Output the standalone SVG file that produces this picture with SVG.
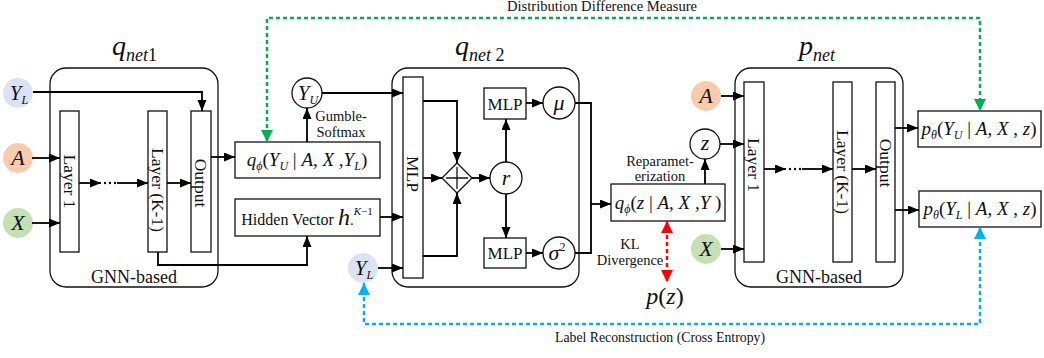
<svg xmlns="http://www.w3.org/2000/svg" width="1044" height="358" viewBox="0 0 1044 358" font-family="'Liberation Serif', 'DejaVu Serif', serif">
<style>
text{font-family:'Liberation Serif','DejaVu Serif',serif;fill:#111}
.i{font-style:italic}
.box{fill:#fff;stroke:#111;stroke-width:1.3}
.grp{fill:#fff;stroke:#111;stroke-width:1.3}
.ln{fill:none;stroke:#000;stroke-width:1.8}
.ar{fill:none;stroke:#000;stroke-width:1.8;marker-end:url(#ah)}
.lab{font-size:17.5px}
.gnn{font-size:18px}
.sm{font-size:14.5px}
.cap{font-size:14px}
.m{font-size:19px}
.g{font-size:22px}
.circ{fill:#fff;stroke:#111;stroke-width:1.3}
</style>
<defs>
<marker id="ah" markerUnits="userSpaceOnUse" markerWidth="12" markerHeight="10" refX="11" refY="4.5" orient="auto"><path d="M0,0 L11,4.5 L0,9 z" fill="#000"/></marker>
<marker id="ag" markerUnits="userSpaceOnUse" markerWidth="13" markerHeight="13" refX="12" refY="6" orient="auto-start-reverse"><path d="M0,0 L12,6 L0,12 z" fill="#00b050"/></marker>
<marker id="ab" markerUnits="userSpaceOnUse" markerWidth="13" markerHeight="13" refX="12" refY="6" orient="auto-start-reverse"><path d="M0,0 L12,6 L0,12 z" fill="#00b0f0"/></marker>
<marker id="ar" markerUnits="userSpaceOnUse" markerWidth="13" markerHeight="13" refX="12" refY="6" orient="auto-start-reverse"><path d="M0,0 L12,6 L0,12 z" fill="#ff0000"/></marker>
</defs>

<g id="qnet1">
<rect class="grp" x="50" y="68" width="168" height="219" rx="16"/>
<text x="112" y="55" font-size="28" class="i">q<tspan font-size="18" dy="6">net</tspan><tspan font-size="18" font-style="normal">1</tspan></text>
<text x="134" y="283" text-anchor="middle" class="gnn">GNN-based</text>
</g>
<g id="q1-layer1"><rect class="box" x="60" y="111" width="19" height="141"/><text class="lab" text-anchor="middle" dy="0.33em" transform="translate(69.5,181.5) rotate(90)">Layer 1</text></g>
<g id="q1-layerK"><rect class="box" x="148" y="111" width="19" height="141"/><text class="lab" text-anchor="middle" dy="0.33em" transform="translate(157.5,190) rotate(90)">Layer (K-1)</text></g>
<g id="q1-output"><rect class="box" x="191" y="111" width="20" height="141"/><text class="lab" text-anchor="middle" dy="0.33em" transform="translate(201,183) rotate(90)">Output</text></g>

<g id="in-YL1"><circle cx="18" cy="93" r="15" fill="#dae3f3"/><text x="19" y="100" text-anchor="middle" class="m"><tspan class="i" font-size="21">Y</tspan><tspan class="i" font-size="12" dy="4">L</tspan></text></g>
<g id="in-A1"><circle cx="18" cy="158" r="15" fill="#f8cbad"/><text x="18" y="165" text-anchor="middle" class="g i">A</text></g>
<g id="in-X1"><circle cx="18" cy="223" r="15" fill="#c5e0b4"/><text x="18" y="230" text-anchor="middle" class="g i">X</text></g>

<g id="qphiY"><rect class="box" x="235" y="142" width="145" height="36"/>
<text x="307" y="166" text-anchor="middle" class="m"><tspan class="i">q</tspan><tspan class="i" font-size="12" dy="4">ϕ</tspan><tspan dy="-4">(</tspan><tspan class="i">Y</tspan><tspan class="i" font-size="12" dy="4">U</tspan><tspan dy="-4"> | </tspan><tspan class="i">A</tspan><tspan>, </tspan><tspan class="i">X</tspan><tspan> ,</tspan><tspan class="i">Y</tspan><tspan class="i" font-size="12" dy="4">L</tspan><tspan dy="-4">)</tspan></text></g>
<g id="hidden"><rect class="box" x="235" y="199" width="145" height="37"/>
<text x="307" y="225" text-anchor="middle"><tspan font-size="16">Hidden Vector </tspan><tspan class="i" font-size="24">h</tspan><tspan font-size="15">.</tspan><tspan class="i" font-size="11" dy="-10">K</tspan><tspan font-size="11">−1</tspan></text></g>
<g id="YU"><circle class="circ" cx="307" cy="93" r="15"/><text x="308" y="100" text-anchor="middle" class="m"><tspan class="i" font-size="21">Y</tspan><tspan class="i" font-size="12" dy="4">U</tspan></text></g>
<text x="341" y="121" text-anchor="middle" class="sm">Gumble-</text>
<text x="341" y="137" text-anchor="middle" class="sm">Softmax</text>
<g id="in-YL2"><circle cx="363" cy="268" r="15" fill="#dae3f3"/><text x="364" y="275" text-anchor="middle" class="m"><tspan class="i" font-size="21">Y</tspan><tspan class="i" font-size="12" dy="4">L</tspan></text></g>

<g id="qnet2">
<rect class="grp" x="392" y="68" width="187" height="219" rx="16"/>
<text x="455" y="55" font-size="28" class="i">q<tspan font-size="18" dy="6">net</tspan><tspan font-size="18" font-style="normal"> 2</tspan></text>
</g>
<g id="q2-mlp"><rect class="box" x="403" y="77" width="20" height="201"/><text class="lab" text-anchor="middle" dy="0.33em" transform="translate(413,174) rotate(90)">MLP</text></g>
<g id="plus"><polygon points="457,163 472,178 457,193 442,178" fill="#fff" stroke="#111" stroke-width="1.3"/><path d="M446,178 H468 M457,167 V189" stroke="#111" stroke-width="1.3"/></g>
<g id="r"><circle class="circ" cx="506" cy="178" r="16"/><text x="506" y="185" text-anchor="middle" class="g i">r</text></g>
<g id="mlp-mu"><rect class="box" x="484" y="88" width="42" height="31"/><text x="505" y="110" text-anchor="middle" font-size="17">MLP</text></g>
<g id="mlp-sig"><rect class="box" x="484" y="238" width="42" height="30"/><text x="505" y="259" text-anchor="middle" font-size="17">MLP</text></g>
<g id="mu"><circle class="circ" cx="559" cy="103" r="16"/><text x="559" y="110" text-anchor="middle" class="g i">μ</text></g>
<g id="sigma"><circle class="circ" cx="559" cy="253" r="16"/><text x="557" y="260" text-anchor="middle" class="g"><tspan class="i">σ</tspan><tspan font-size="12" dy="-9">2</tspan></text></g>

<g id="qz"><rect class="box" x="611" y="184" width="114" height="37"/>
<text x="668" y="209" text-anchor="middle" class="m"><tspan class="i">q</tspan><tspan class="i" font-size="12" dy="4">ϕ</tspan><tspan dy="-4">(</tspan><tspan class="i">z</tspan><tspan> | </tspan><tspan class="i">A</tspan><tspan>, </tspan><tspan class="i">X</tspan><tspan> ,</tspan><tspan class="i">Y</tspan><tspan> )</tspan></text></g>
<text x="660" y="166" text-anchor="middle" class="sm">Reparamet-</text>
<text x="660" y="181" text-anchor="middle" class="sm">erization</text>
<g id="z"><circle class="circ" cx="705" cy="144" r="15"/><text x="705" y="150" text-anchor="middle" class="g i">z</text></g>
<text x="630" y="249" text-anchor="middle" class="sm">KL</text>
<text x="630" y="265" text-anchor="middle" class="sm">Divergence</text>
<g id="pz"><text x="665" y="304" text-anchor="middle" font-size="24"><tspan class="i">p</tspan>(<tspan class="i">z</tspan>)</text></g>

<g id="in-A2"><circle cx="706" cy="96" r="15" fill="#f8cbad"/><text x="706" y="103" text-anchor="middle" class="g i">A</text></g>
<g id="in-X2"><circle cx="706" cy="249" r="15" fill="#c5e0b4"/><text x="706" y="256" text-anchor="middle" class="g i">X</text></g>

<g id="pnet">
<rect class="grp" x="735" y="68" width="168" height="219" rx="16"/>
<text x="799" y="55" font-size="28" class="i">p<tspan font-size="18" dy="6">net</tspan></text>
<text x="819" y="283" text-anchor="middle" class="gnn">GNN-based</text>
</g>
<g id="p-layer1"><rect class="box" x="744" y="82" width="20" height="180"/><text class="lab" text-anchor="middle" dy="0.33em" transform="translate(754,165) rotate(90)">Layer 1</text></g>
<g id="p-layerK"><rect class="box" x="833" y="82" width="19" height="180"/><text class="lab" text-anchor="middle" dy="0.33em" transform="translate(842.5,172) rotate(90)">Layer (K-1)</text></g>
<g id="p-output"><rect class="box" x="876" y="82" width="19" height="180"/><text class="lab" text-anchor="middle" dy="0.33em" transform="translate(885.5,163) rotate(90)">Output</text></g>

<g id="pYU"><rect class="box" x="918" y="111" width="123" height="36"/>
<text x="979" y="135" text-anchor="middle" class="m"><tspan class="i">p</tspan><tspan class="i" font-size="12" dy="4">θ</tspan><tspan dy="-4">(</tspan><tspan class="i">Y</tspan><tspan class="i" font-size="12" dy="4">U</tspan><tspan dy="-4"> | </tspan><tspan class="i">A</tspan><tspan>, </tspan><tspan class="i">X</tspan><tspan> , </tspan><tspan class="i">z</tspan><tspan>)</tspan></text></g>
<g id="pYL"><rect class="box" x="919" y="191" width="122" height="36"/>
<text x="980" y="215" text-anchor="middle" class="m"><tspan class="i">p</tspan><tspan class="i" font-size="12" dy="4">θ</tspan><tspan dy="-4">(</tspan><tspan class="i">Y</tspan><tspan class="i" font-size="12" dy="4">L</tspan><tspan dy="-4"> | </tspan><tspan class="i">A</tspan><tspan>, </tspan><tspan class="i">X</tspan><tspan> , </tspan><tspan class="i">z</tspan><tspan>)</tspan></text></g>

<text x="602" y="11" text-anchor="middle" class="cap" textLength="190" lengthAdjust="spacingAndGlyphs">Distribution Difference Measure</text>
<text x="660" y="342" text-anchor="middle" class="cap" textLength="210" lengthAdjust="spacingAndGlyphs">Label Reconstruction (Cross Entropy)</text>

<g id="connectors">
<path class="ar" d="M32,158 H60"/>
<path class="ar" d="M32,223 H60"/>
<path class="ar" d="M33,92 H202 V111"/>
<path class="ar" d="M79,183 H101"/>
<g fill="#000"><circle cx="105" cy="183" r="1.2"/><circle cx="110" cy="183" r="1.2"/><circle cx="115" cy="183" r="1.2"/></g>
<path class="ar" d="M117,183 H148"/>
<path class="ar" d="M167,183 H191"/>
<path class="ar" d="M211,157 H235"/>
<path class="ar" d="M158,252 V265 H307 V236"/>
<path class="ar" d="M307,142 V108"/>
<path class="ar" d="M322,93 H403"/>
<path class="ar" d="M380,217 H403"/>
<path class="ar" d="M378,268 H403"/>
<path class="ar" d="M423,101 H457 V163"/>
<path class="ar" d="M423,256 H457 V193"/>
<path class="ar" d="M423,178 H442"/>
<path class="ar" d="M472,178 H490"/>
<path class="ar" d="M506,162 V119"/>
<path class="ar" d="M506,194 V238"/>
<path class="ar" d="M526,103 H543"/>
<path class="ar" d="M526,253 H543"/>
<path class="ln" d="M575,103 H591 V253 H575"/>
<path class="ar" d="M591,204 H611"/>
<path class="ar" d="M705,184 V159"/>
<path class="ar" d="M721,96 H744"/>
<path class="ar" d="M720,144 H744"/>
<path class="ar" d="M721,249 H744"/>
<path class="ar" d="M764,169 H786"/>
<g fill="#000"><circle cx="790" cy="169" r="1.2"/><circle cx="795" cy="169" r="1.2"/><circle cx="800" cy="169" r="1.2"/></g>
<path class="ar" d="M802,169 H833"/>
<path class="ar" d="M852,169 H876"/>
<path class="ar" d="M895,128 H918"/>
<path class="ar" d="M895,210 H919"/>
<path d="M267,142 V18 H980 V111" fill="none" stroke="#00b050" stroke-width="2.5" stroke-dasharray="4 3" marker-start="url(#ag)" marker-end="url(#ag)"/>
<path d="M364,283 V324 H980 V227" fill="none" stroke="#00b0f0" stroke-width="2.5" stroke-dasharray="4 3" marker-start="url(#ab)" marker-end="url(#ab)"/>
<path d="M667,221 V282" fill="none" stroke="#ff0000" stroke-width="2.5" stroke-dasharray="4 3" marker-start="url(#ar)" marker-end="url(#ar)"/>
</g>
</svg>
